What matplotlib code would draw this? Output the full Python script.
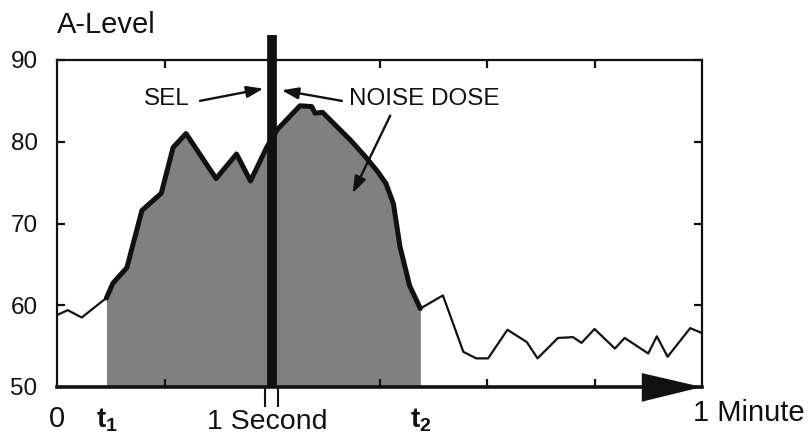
import matplotlib
matplotlib.use("Agg")
import matplotlib.pyplot as plt
import numpy as np

plt.rcParams['font.family'] = ['Liberation Sans', 'DejaVu Sans']

# ---- data ----
time_s = [0, 1.0, 2.3, 4.6, 5.2, 6.5, 7.9, 9.7, 10.8, 12.0, 14.8, 16.7, 18.0, 19.5,
          20.5, 22.6, 23.7, 24.0, 24.7, 26.0, 27.3, 28.6, 29.8, 30.6, 31.3, 31.9, 32.8,
          33.8, 35.9, 37.8, 39.0, 40.1, 41.9, 43.7, 44.7, 46.6, 48.0, 48.8, 50.0,
          51.9, 52.8, 55.0, 55.8, 56.8, 58.9, 60.0]
level = [58.8, 59.4, 58.5, 60.9, 62.7, 64.6, 71.6, 73.7, 79.3, 81.0, 75.5, 78.5, 75.2, 79.3,
         81.5, 84.4, 84.3, 83.5, 83.6, 81.9, 80.2, 78.3, 76.4, 74.9, 72.4, 67.2, 62.4,
         59.6, 61.2, 54.3, 53.5, 53.5, 57.0, 55.5, 53.5, 56.0, 56.1, 55.4, 57.1,
         54.7, 56.0, 54.1, 56.2, 53.7, 57.2, 56.6]
t1, t2 = 4.6, 33.8
sel_t = 20.0
yticks = [50, 60, 70, 80, 90]
xticks_minor = [10, 20, 30, 40, 50]

x = np.array(time_s)
y = np.array(level)

fig = plt.figure(figsize=(8.08, 4.38), dpi=100)
ax = fig.add_axes([57/808, 1-387/438, 645/808, 327/438])
ax.set_xlim(0, 60)
ax.set_ylim(50, 90)

ink = '#111111'
mask = (x >= t1) & (x <= t2)
ax.fill_between(x[mask], 50, y[mask], color='#808080', lw=0, zorder=1)
ax.plot(x[x <= t1], y[x <= t1], color=ink, lw=1.6, zorder=3, solid_joinstyle='round')
ax.plot(x[x >= t2], y[x >= t2], color=ink, lw=1.6, zorder=3, solid_joinstyle='round')
ax.plot(x[mask], y[mask], color=ink, lw=3.6, zorder=3, solid_joinstyle='round',
        solid_capstyle='round')

# SEL bar
ax.plot([sel_t, sel_t], [50, 93], color=ink, lw=7, zorder=5, clip_on=False, solid_capstyle='butt')
for bx in (sel_t - 0.62, sel_t + 0.58):
    ax.plot([bx, bx], [50, 47.6], color=ink, lw=1.5, clip_on=False, solid_capstyle='butt')

# spines and ticks
for s in ('left', 'top', 'right'):
    ax.spines[s].set_linewidth(1.6)
    ax.spines[s].set_color(ink)
ax.spines['bottom'].set_linewidth(2.6)
ax.spines['bottom'].set_color(ink)
ax.set_yticks(yticks)
ax.set_yticklabels([str(v) for v in yticks])
ax.set_xticks(xticks_minor)
ax.set_xticklabels([])
ax.tick_params(axis='both', direction='in', length=6, width=1.6, colors=ink,
               top=True, right=True, labelsize=17.5, pad=14)
ax.tick_params(axis='x', labelbottom=False)

# big arrow head on x axis
ax.fill([54.4, 60.0, 54.4], [51.7, 50.0, 48.2], color=ink, clip_on=False, zorder=6, lw=0)

fs_big = 21
fs_ann = 17.5
# x labels
ax.text(0, 46.1, '0', ha='center', va='center', fontsize=fs_big, color=ink, clip_on=False)
ax.text(t1, 46.0, r't$_\mathregular{1}$', ha='center', va='center', fontsize=fs_big - 1,
        color=ink, fontweight='bold', clip_on=False)
ax.text(t2, 46.0, r't$_\mathregular{2}$', ha='center', va='center', fontsize=fs_big - 1,
        color=ink, fontweight='bold', clip_on=False)
ax.text(sel_t - 0.4, 44.15, '1 Second', ha='center', va='bottom', fontsize=fs_big - 0.5,
        color=ink, clip_on=False)
ax.text(59.2, 46.8, '1 Minute', ha='left', va='center', fontsize=fs_big, color=ink, clip_on=False)

fig.text(57/808, 1-25/438, 'A-Level', ha='left', va='center', fontsize=fs_big, color=ink)

# annotations
aprops = dict(arrowstyle='-|>,head_length=1.0,head_width=0.35', color=ink, lw=1.7,
              shrinkA=0, shrinkB=0)
ax.text(10.2, 85.2, 'SEL', ha='center', va='center', fontsize=fs_ann, color=ink)
ax.annotate('', xy=(19.2, 86.5), xytext=(13.3, 85.0), arrowprops=aprops)
ax.text(34.2, 85.2, 'NOISE DOSE', ha='center', va='center', fontsize=fs_ann, color=ink)
ax.annotate('', xy=(20.9, 86.3), xytext=(26.5, 85.0), arrowprops=aprops)
ax.annotate('', xy=(27.5, 73.7), xytext=(31.0, 83.2), arrowprops=aprops)

fig.savefig('out.png', dpi=100)
